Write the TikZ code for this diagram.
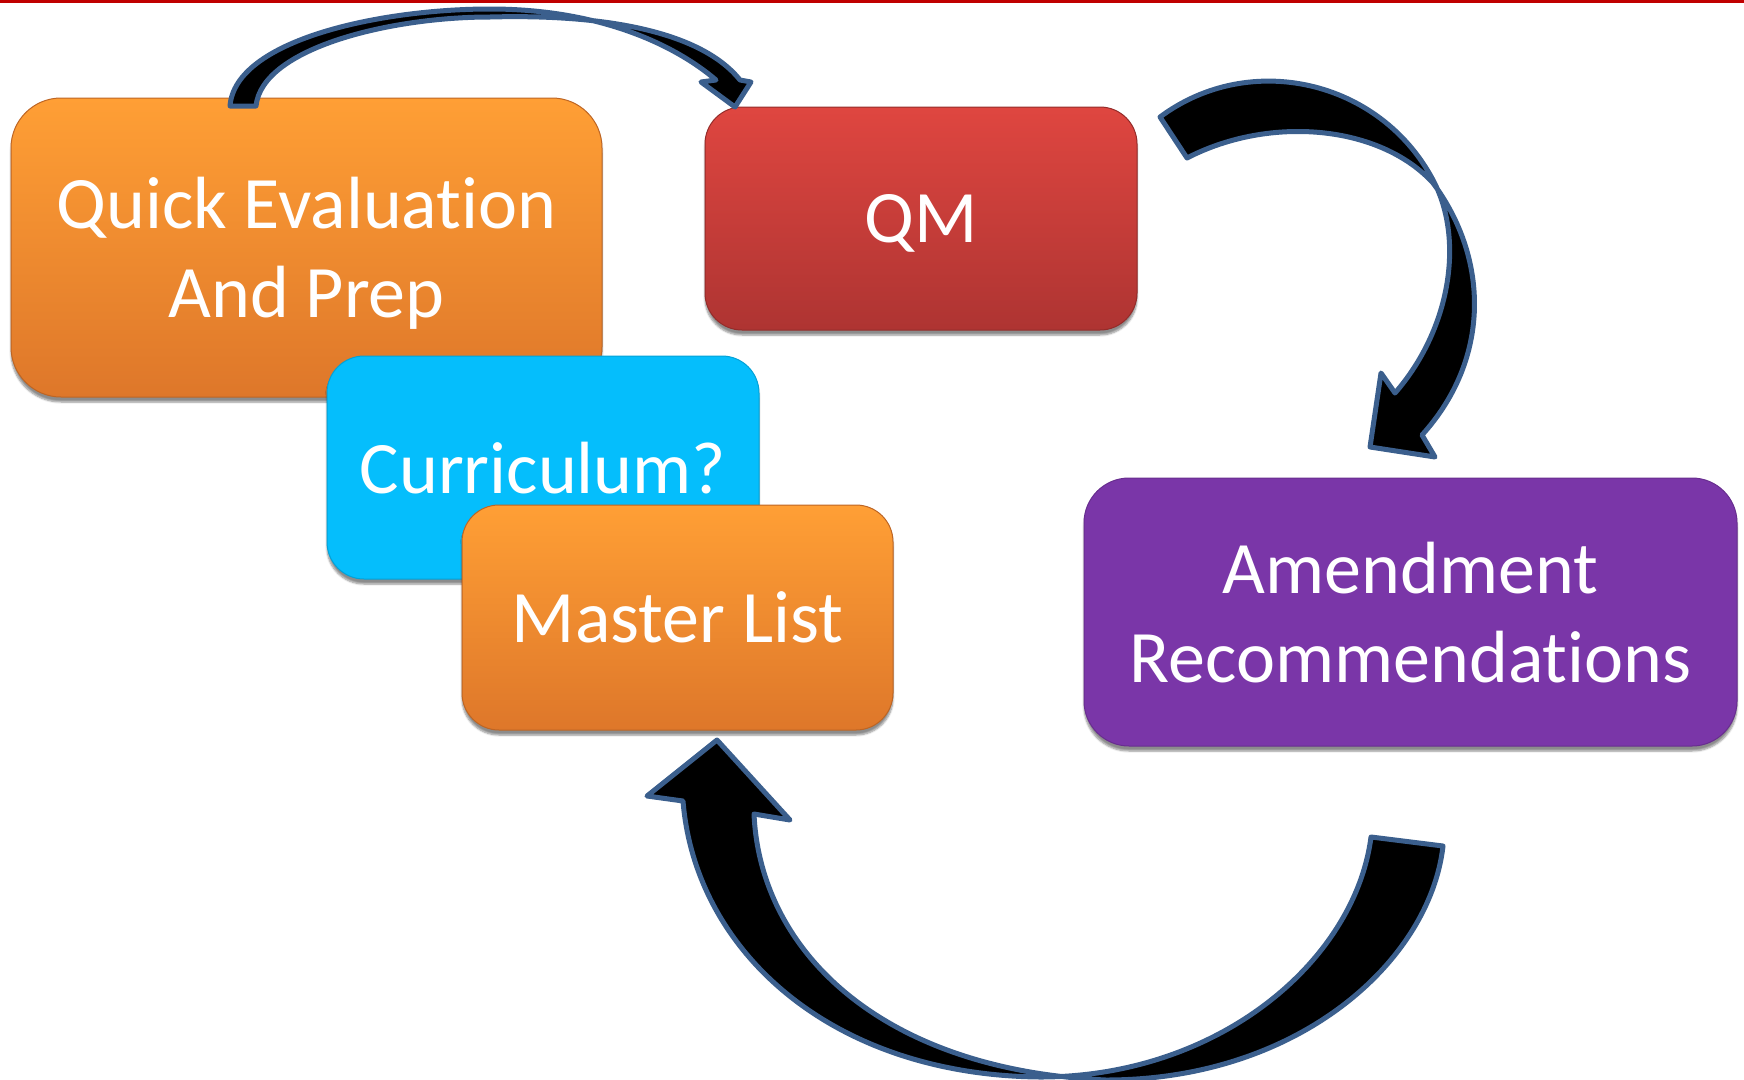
\documentclass[tikz,border=0pt]{standalone}
\usepackage{fontspec}
\setmainfont[Ligatures={CommonOff}]{Carlito}
\usetikzlibrary{shadows.blur}

\definecolor{orangetop}{HTML}{FF9F35}
\definecolor{orangebot}{HTML}{DE772A}
\definecolor{redtop}{HTML}{DF4640}
\definecolor{redbot}{HTML}{AE3432}
\definecolor{cyanbox}{HTML}{05BEFC}
\definecolor{purplebox}{HTML}{7A36A8}
\definecolor{arrowedge}{HTML}{3B5F8D}
\definecolor{topline}{HTML}{C00000}

\begin{document}
\begin{tikzpicture}[x=1pt, y=-1pt,
    box/.style={rounded corners=#1, text=white, align=center, inner sep=0pt,
        font=\fontsize{74}{89}\selectfont, text depth=0pt, line width=1pt,
        blur shadow={shadow xshift=0pt, shadow yshift=-5pt, shadow blur steps=6, shadow opacity=45}},
    box/.default=37pt,
    orangebox/.style={top color=orangetop, bottom color=orangebot, draw=orangebot!85!black},
    redbox/.style={top color=redtop, bottom color=redbot, draw=redbot!85!black},
    bigarrow/.style={fill=black, draw=arrowedge, line width=5pt, line join=round}]

    \useasboundingbox (0,0) rectangle (1744,1079);
    \clip (0,0) rectangle (1744,1079);
    \fill[topline] (0,0) rectangle (1744,3);

    % the boxes, back to front
    \node[box=50pt, orangebox, minimum width=591pt, minimum height=299pt] (quick) at (306.5,247.5) {Quick Evaluation\\And Prep};
    \node[box, redbox, minimum width=432pt, minimum height=223pt] (qm) at (921,218.5) {QM};
    \node[box, fill=cyanbox, draw=cyanbox!85!black, minimum width=432pt, minimum height=223pt] (curric) at (543,467.5) {Curriculum?};
    \node[box, orangebox, minimum width=431pt, minimum height=225pt] (master) at (677.5,617.5) {Master List};
    \node[box=45pt, fill=purplebox, draw=purplebox!85!black, minimum width=653pt, minimum height=268pt] (amend) at (1410.5,612) {Amendment\\Recommendations};

    % quick -> qm
    \draw[bigarrow] (230,106) .. controls (235,40) and (380,9) .. (490,9)
        .. controls (600,9) and (675,45) .. (716,80)
        -- (701,82) -- (735,107) -- (751,82) -- (740,80)
        .. controls (700,30) and (600,14) .. (490,17)
        .. controls (390,17) and (262,48) .. (256,106) -- cycle;

    % qm -> amend
    \draw[bigarrow] (1160,117) .. controls (1250,50) and (1380,80) .. (1433,180)
        .. controls (1465,240) and (1450,330) .. (1395,393)
        -- (1381,373) -- (1370,447) -- (1435,457) -- (1422,435)
        .. controls (1490,360) and (1490,260) .. (1433,183)
        .. controls (1380,125) and (1270,115) .. (1187,158) -- cycle;

    % amend -> master
    \draw[bigarrow] (717,740) -- (790,820) -- (754,814)
        .. controls (760,950) and (880,1070) .. (1106,1080)
        .. controls (1300,1080) and (1430,960) .. (1443,846)
        -- (1371,837)
        .. controls (1355,960) and (1220,1077) .. (1040,1077)
        .. controls (830,1075) and (695,950) .. (683,801)
        -- (647,796) -- cycle;
\end{tikzpicture}
\end{document}
